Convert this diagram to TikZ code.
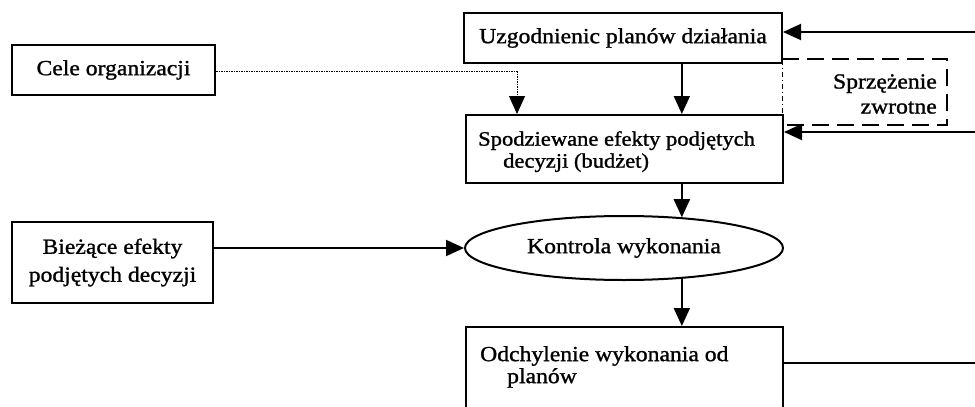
\documentclass[tikz,border=0pt]{standalone}
\usepackage{fontspec}
\setmainfont{Liberation Serif}[FakeStretch=1.1,FakeBold=1.2]
\usetikzlibrary{arrows.meta,shapes.geometric}
\begin{document}
\begin{tikzpicture}[x=1pt,y=-1pt,
  every node/.style={font=\fontsize{21.5}{22}\selectfont, inner sep=0pt},
  box/.style={draw, line width=2pt, rectangle},
  tip/.style={-{Triangle[length=18pt,width=16pt]}},
  arr/.style={line width=2pt, tip},
  dotline/.style={line width=1pt, dash pattern=on 1.5pt off 1pt},
  fbline/.style={line width=2pt, dash pattern=on 17pt off 8pt},
  fbleft/.style={line width=0.8pt, dash pattern=on 5pt off 3pt on 1pt off 3pt}
]
\useasboundingbox (0,0) rectangle (975,407);
\clip (0,0) rectangle (975,407);

% nodes
\node[box, minimum width=318, minimum height=50] (uzg) at (623,38) {Uzgodnienic planów działania};
\node[box, minimum width=203, minimum height=50] (cele) at (113.5,70) {Cele organizacji};
\node[box, minimum width=317, minimum height=68, anchor=north west] (spo) at (465,114) {};
\node[anchor=north west, align=left, font=\fontsize{20.5}{22}\selectfont] (spotxt) at (478,131) {Spodziewane efekty podjętych\\\hspace*{25pt}decyzji (budżet)};
\node[draw, ellipse, line width=2pt, minimum width=318, minimum height=64] (ell) at (624,248) {Kontrola wykonania};
\node[box, minimum width=201, minimum height=81, align=center, font=\fontsize{21.5}{28}\selectfont] (bie) at (112.5,262.5) {Bieżące efekty\\podjętych decyzji};
\node[box, minimum width=317, minimum height=120, anchor=north west] (odch) at (465,326) {};
\node[anchor=north west, align=left] (odchtxt) at (480,346) {Odchylenie wykonania od\\\hspace*{27pt}planów};

% feedback frame
\node[minimum width=165, minimum height=66, anchor=north west] (fb) at (782,59) {};
\draw[fbline] (fb.north west) -- (fb.north east) -- (fb.south east) -- (fb.south west);
\draw[fbleft] (fb.south west) -- (fb.north west);
\node[align=right, anchor=east, font=\fontsize{21.5}{25}\selectfont] (fbt) at (937,94) {Sprzężenie\\zwrotne};

% coordinates
\coordinate (r1) at (975,32);
\coordinate (r2) at (975,132);
\coordinate (r3) at (975,363);
\coordinate (dk) at (517,71);

% connectors
\draw[arr] (r1) -- (r1 -| uzg.east);
\draw[arr] (r2) -- (r2 -| spo.east);
\draw[line width=2pt] (r3 -| odch.east) -- (r3);
\draw[arr] (uzg.south -| ell.28) -- (spo.north -| ell.28);
\draw[dotline] (cele.east |- dk) -- (dk);
\draw[dotline, tip] (dk) -- (dk |- spo.north);
\draw[arr] (spo.south -| ell.28) -- (ell.28);
\draw[arr] (bie.east |- ell.west) -- (ell.west);
\draw[arr] (ell.-28) -- (odch.north -| ell.-28);
\end{tikzpicture}
\end{document}
